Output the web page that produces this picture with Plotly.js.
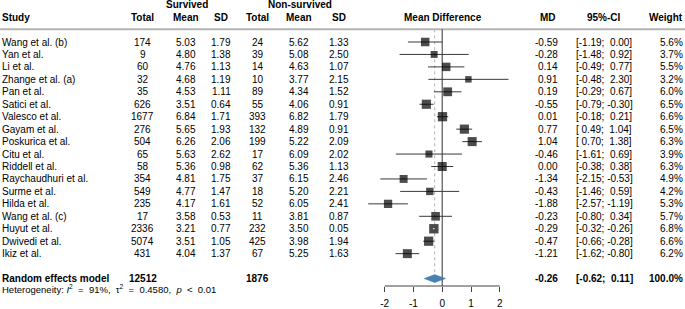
<!DOCTYPE html>
<html><head><meta charset="utf-8">
<script src="https://cdn.plot.ly/plotly-3.0.1.min.js"></script>
<style>html,body{margin:0;padding:0;background:#fff;}#chart{width:685px;height:309px;}</style>
</head><body><div id="chart"></div>
<script>
// ---------------- data ----------------
const studies = ["Wang et al. (b)","Yan et al.","Li et al.","Zhange et al. (a)","Pan et al.","Satici et al.","Valesco et al.","Gayam et al.","Poskurica et al.","Citu et al.","Riddell et al.","Raychaudhuri et al.","Surme et al.","Hilda et al.","Wang et al. (c)","Huyut et al.","Dwivedi et al.","Ikiz et al."];
const survTotal = [174,9,60,32,35,626,1677,276,504,65,58,354,549,235,17,2336,5074,431];
const survMean = [5.03,4.80,4.76,4.68,4.53,3.51,6.84,5.65,6.26,5.63,5.36,4.81,4.77,4.17,3.58,3.21,3.51,4.04];
const survSD = [1.79,1.38,1.13,1.19,1.11,0.64,1.71,1.93,2.06,2.62,0.98,1.75,1.47,1.61,0.53,0.77,1.05,1.37];
const nonTotal = [24,39,14,10,89,55,393,132,199,17,62,37,18,52,11,232,425,67];
const nonMean = [5.62,5.08,4.63,3.77,4.34,4.06,6.82,4.89,5.22,6.09,5.36,6.15,5.20,6.05,3.81,3.50,3.98,5.25];
const nonSD = [1.33,2.50,1.07,2.15,1.52,0.91,1.79,0.91,2.09,2.02,1.13,2.46,2.21,2.41,0.87,0.05,1.94,1.63];
const md = [-0.59,-0.28,0.14,0.91,0.19,-0.55,0.01,0.77,1.04,-0.46,0.00,-1.34,-0.43,-1.88,-0.23,-0.29,-0.47,-1.21];
const ciLow = [-1.19,-1.48,-0.49,-0.48,-0.29,-0.79,-0.18,0.49,0.70,-1.61,-0.38,-2.15,-1.46,-2.57,-0.80,-0.32,-0.66,-1.62];
const ciHigh = [0.00,0.92,0.77,2.30,0.67,-0.30,0.21,1.04,1.38,0.69,0.38,-0.53,0.59,-1.19,0.34,-0.26,-0.28,-0.80];
const weight = [5.6,3.7,5.5,3.2,6.0,6.5,6.6,6.5,6.3,3.9,6.3,4.9,4.2,5.3,5.7,6.8,6.6,6.2];
const pooledLabel = "Random effects model";
const pooledSurvTotal = 12512;
const pooledNonTotal = 1876;
const pooledMD = -0.26;
const pooledLow = -0.62;
const pooledHigh = 0.11;
const pooledWeight = 100.0;
const hetI2 = "91%";
const hetTau2 = "0.4580";
const hetP = "0.01";
const tickVals = [-2,-1,0,1,2];
const tickLabels = ["-2","-1","0","1","2"];

// ---------------- layout constants ----------------
const W = 685, H = 309;
const FONT = 'Liberation Sans, Arial, Helvetica, sans-serif';
const FS = 10;
const row0Px = 42, rowPx = 12.45;
const yTop = -row0Px / rowPx, yBottom = (H - row0Px) / rowPx;
const xRange = [-3, 3];
const zeroPx = 442.2, unitPx = 28.8;
const xDomain = [(zeroPx + xRange[0] * unitPx) / W, (zeroPx + xRange[1] * unitPx) / W];
const rowOf = px => (px - row0Px) / rowPx;
const n = studies.length;
const rows = studies.map((s, i) => i);
const pooledRow = n + 1;
const axisPx = 286;
const axisRow = rowOf(axisPx);
const hetRow = rowOf(288.5);
const sepRow = rowOf(29.3);
const diamondHalf = 3.9 / rowPx;
const boxScale = 3.6;

const nb = '\u00a0';
const f2 = v => v.toFixed(2);
const padNum = v => (v < 0 ? '' : nb) + f2(v);
const ciText = (lo, hi) => '[' + padNum(lo) + ';' + nb + padNum(hi) + ']';
const sp2 = nb + nb;
const heterogeneity = 'Heterogeneity:' + nb + '<i>I</i><sup>2</sup>' + sp2 + '=' + sp2 + hetI2 + ',' + sp2 +
  '\u03c4<sup>2</sup>' + sp2 + '=' + sp2 + hetTau2 + ',' + sp2 + '<i>p</i>' + sp2 + '&lt;' + sp2 + hetP;

const ann = [];
function txt(text, px, row, anchor, bold, size) {
  ann.push({
    text: bold ? '<b>' + text + '</b>' : text,
    xref: 'paper', yref: 'y', x: px / W, y: row,
    xanchor: anchor, yanchor: 'middle', showarrow: false,
    borderpad: 0, borderwidth: 0,
    font: {family: FONT, size: size || FS, color: '#000'}
  });
}

// column positions (pixels)
const C = {study: 2, sT: 142.5, sM: 185.5, sS: 221, nT: 257.5, nM: 298.5, nS: 338.5,
           md: 558, ci: 604, w: 683};

// headers
txt('Survived', 187, -3, 'center', true);
txt('Non-survived', 300, -3, 'center', true);
txt('Study', C.study, -2, 'left', true);
txt('Total', C.sT, -2, 'center', true);
txt('Mean', C.sM, -2, 'center', true);
txt('SD', C.sS, -2, 'center', true);
txt('Total', C.nT, -2, 'center', true);
txt('Mean', C.nM, -2, 'center', true);
txt('SD', C.nS, -2, 'center', true);
txt('Mean Difference', 443, -2, 'center', true);
txt('MD', 556, -2, 'right', true);
txt('95%-CI', 604, -2, 'center', true);
txt('Weight', C.w, -2, 'right', true);

rows.forEach(i => {
  txt(studies[i], C.study, i, 'left');
  txt(String(survTotal[i]), C.sT, i, 'center');
  txt(f2(survMean[i]), C.sM, i, 'center');
  txt(f2(survSD[i]), C.sS, i, 'center');
  txt(String(nonTotal[i]), C.nT, i, 'center');
  txt(f2(nonMean[i]), C.nM, i, 'center');
  txt(f2(nonSD[i]), C.nS, i, 'center');
  txt(f2(md[i]), C.md, i, 'right');
  txt(ciText(ciLow[i], ciHigh[i]), C.ci, i, 'center');
  txt(weight[i].toFixed(1) + '%', C.w, i, 'right');
});

txt(pooledLabel, C.study, pooledRow, 'left', true);
txt(String(pooledSurvTotal), C.sT, pooledRow, 'center', true);
txt(String(pooledNonTotal), C.nT, pooledRow, 'center', true);
txt(f2(pooledMD), C.md, pooledRow, 'right', true);
txt(ciText(pooledLow, pooledHigh), C.ci, pooledRow, 'center', true);
txt(pooledWeight.toFixed(1) + '%', C.w, pooledRow, 'right', true);
txt(heterogeneity, C.study, hetRow, 'left', false, 9.5);

// ---------------- traces ----------------
const sizes = weight.map(w => boxScale * Math.sqrt(w));
const ciX = [], ciY = [], inX = [], inY = [];
rows.forEach(i => {
  const inside = (ciHigh[i] - ciLow[i]) * unitPx < sizes[i];
  if (inside) { inX.push(ciLow[i], ciHigh[i], null); inY.push(i, i, null); }
  else { ciX.push(ciLow[i], ciHigh[i], null); ciY.push(i, i, null); }
});

const traces = [
  {type: 'scatter', mode: 'lines', x: ciX, y: ciY, line: {color: '#3a3a3a', width: 1},
   cliponaxis: false, hoverinfo: 'skip', showlegend: false},
  {type: 'scatter', mode: 'markers', x: md, y: rows,
   marker: {symbol: 'square', size: sizes, color: '#000', line: {width: 0}},
   cliponaxis: false, hoverinfo: 'skip', showlegend: false},
  {type: 'scatter', mode: 'lines', x: inX, y: inY, line: {color: '#fff', width: 1},
   cliponaxis: false, hoverinfo: 'skip', showlegend: false},
  {type: 'scatter', mode: 'lines', fill: 'toself',
   x: [pooledLow, pooledMD, pooledHigh, pooledMD, pooledLow],
   y: [pooledRow, pooledRow - diamondHalf, pooledRow, pooledRow + diamondHalf, pooledRow],
   fillcolor: '#4682B4', line: {color: '#3c74a4', width: 0.6},
   cliponaxis: false, hoverinfo: 'skip', showlegend: false}
];

const shapes = [
  {type: 'line', xref: 'paper', yref: 'y', x0: 0, x1: 1, y0: sepRow, y1: sepRow,
   line: {color: '#b4b4b4', width: 2}, layer: 'below'},
  {type: 'line', xref: 'x', yref: 'y', x0: 0, x1: 0, y0: sepRow, y1: axisRow,
   line: {color: '#333', width: 1}, layer: 'below'},
  {type: 'line', xref: 'x', yref: 'y', x0: pooledMD, x1: pooledMD, y0: sepRow, y1: pooledRow - diamondHalf,
   line: {color: '#b0b0b0', width: 1, dash: 'dot'}, layer: 'below'},
  {type: 'line', xref: 'x', yref: 'y', x0: tickVals[0], x1: tickVals[tickVals.length - 1], y0: axisRow, y1: axisRow,
   line: {color: '#444', width: 1}}
];

const layout = {
  width: W, height: H,
  margin: {l: 0, r: 0, t: 0, b: 0, pad: 0},
  paper_bgcolor: '#fff', plot_bgcolor: 'rgba(0,0,0,0)',
  showlegend: false,
  font: {family: FONT, size: FS, color: '#000'},
  xaxis: {domain: xDomain, range: xRange, anchor: 'free', position: 1 - axisPx / H,
          showgrid: false, zeroline: false, showline: false,
          tickmode: 'array', tickvals: tickVals, ticktext: tickLabels,
          ticks: 'outside', ticklen: 5, tickwidth: 1, tickcolor: '#444',
          ticklabelstandoff: 3,
          tickfont: {family: FONT, size: FS, color: '#000'}, fixedrange: true},
  yaxis: {domain: [0, 1], range: [yBottom, yTop], visible: false, showgrid: false,
          zeroline: false, fixedrange: true},
  shapes: shapes,
  annotations: ann
};

Plotly.newPlot('chart', traces, layout, {displayModeBar: false, staticPlot: true});
</script></body></html>
